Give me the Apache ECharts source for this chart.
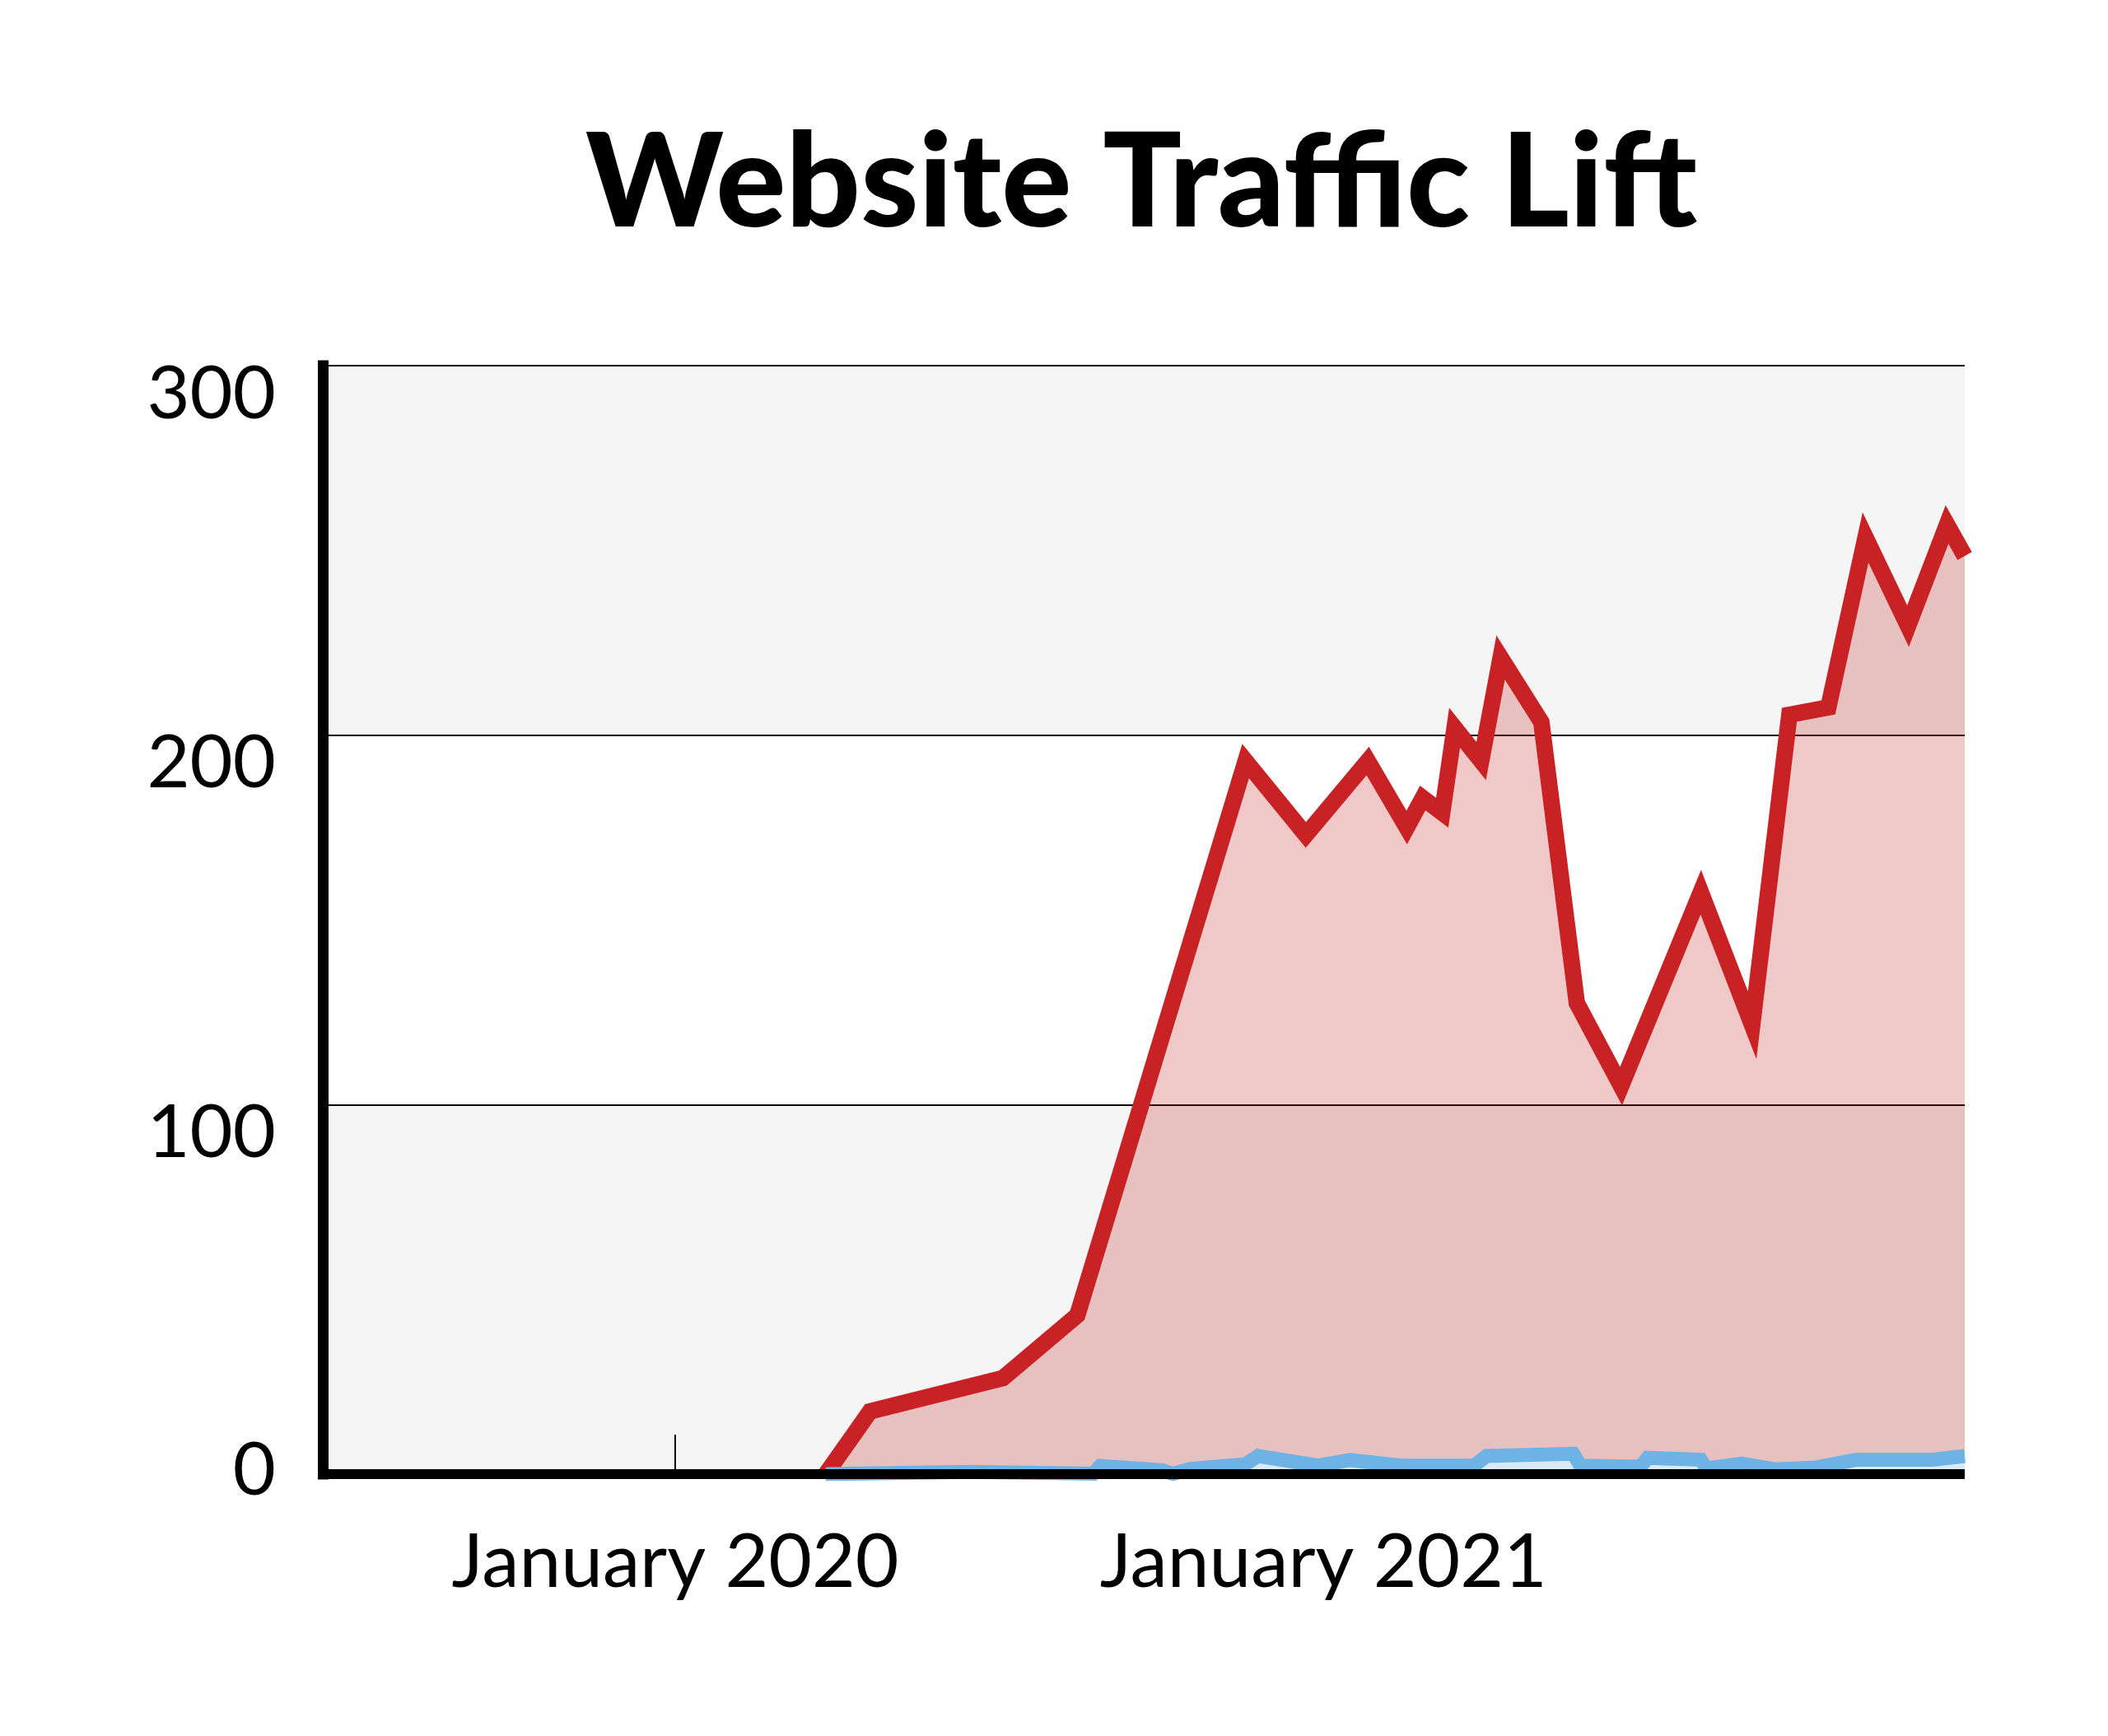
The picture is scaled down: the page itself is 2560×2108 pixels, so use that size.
<!DOCTYPE html>
<html>
<head>
<meta charset="utf-8">
<style>
html,body{margin:0;padding:0;background:#ffffff;}
#chart{width:2560px;height:2108px;}
</style>
<script src="https://cdn.jsdelivr.net/npm/echarts@6/dist/echarts.min.js"></script>
</head>
<body>
<div id="chart"></div>
<script>
// ---- data ----
const titleText = 'Website Traffic Lift';

const redDates = ['2020-03-26','2020-04-20','2020-07-04','2020-08-15','2020-11-18','2020-12-22',
  '2021-01-26','2021-02-17','2021-02-26','2021-03-09','2021-03-16','2021-03-31','2021-04-11',
  '2021-05-04','2021-05-24','2021-06-18','2021-08-02','2021-08-31','2021-09-21','2021-10-13',
  '2021-11-03','2021-11-27','2021-12-19','2021-12-29'];
const redValues = [0, 17, 26, 43, 193, 173,
  193, 175, 183, 179, 202, 193, 221,
  203.5, 127.5, 105, 157.5, 121.5, 205.5, 207.5,
  253.5, 229.5, 257, 248.5];

const blueDates = ['2020-03-26','2020-06-15','2020-08-24','2020-08-28','2020-10-02','2020-10-08',
  '2020-10-18','2020-11-18','2020-11-25','2020-12-29','2021-01-16','2021-02-14','2021-03-27',
  '2021-04-03','2021-05-22','2021-05-26','2021-06-29','2021-07-03','2021-08-02','2021-08-05',
  '2021-08-25','2021-09-13','2021-10-06','2021-10-29','2021-12-11','2021-12-29'];
const blueValues = [0, 0.6, 0.1, 2.2, 1.0, 0.1,
  1.4, 2.7, 4.9, 2.3, 3.8, 2.3, 2.3,
  4.9, 5.5, 2.3, 2.0, 4.4, 3.9, 1.6,
  2.8, 1.3, 1.8, 3.9, 3.9, 4.9];

const xMin = '2019-06-16';
const xMax = '2021-12-29';
const xLabelDates = ['2020-01-01', '2021-01-01'];
const xTickDates = ['2020-01-01'];
const yTicks = [0, 100, 200, 300];

// ---- chart ----
const FONT = 'Lato';
const MONTHS = ['January','February','March','April','May','June','July','August','September','October','November','December'];
const ts = s => { const p = s.split('-').map(Number); return new Date(p[0], p[1] - 1, p[2]).getTime(); };
const redData = redDates.map((d, i) => [ts(d), redValues[i]]);
const blueData = blueDates.map((d, i) => [ts(d), blueValues[i]]);

const chart = echarts.init(document.getElementById('chart'), null, {renderer: 'canvas'});
const option = {
  backgroundColor: '#ffffff',
  animation: false,
  title: {
    text: titleText,
    left: 711,
    top: 144,
    padding: 0,
    textStyle: {fontFamily: FONT, fontWeight: 900, fontSize: 159, color: '#000000'}
  },
  grid: {left: 392, right: 174, top: 444, bottom: 318, containLabel: false, outerBoundsMode: 'none'},
  xAxis: {
    type: 'value',
    min: ts(xMin),
    max: ts(xMax),
    offset: 4,
    z: 10,
    axisLine: {show: true, lineStyle: {color: '#000000', width: 12, cap: 'butt'}},
    axisTick: {show: true, inside: true, length: 48, customValues: xTickDates.map(ts),
      lineStyle: {color: '#000000', width: 2}},
    axisLabel: {
      customValues: xLabelDates.map(ts),
      formatter: v => { const d = new Date(v); return MONTHS[d.getMonth()] + ' ' + d.getFullYear(); },
      fontFamily: FONT, fontSize: 91, color: '#000000', margin: 58
    },
    splitLine: {show: false},
    splitArea: {show: false}
  },
  yAxis: {
    type: 'value',
    min: yTicks[0],
    max: yTicks[yTicks.length - 1],
    interval: 100,
    axisLine: {show: true, lineStyle: {color: '#000000', width: 13, cap: 'square'}},
    axisTick: {show: false},
    axisLabel: {
      margin: 57,
      fontFamily: FONT, fontSize: 90, color: '#000000',
      formatter: v => v === 0 ? '{z|0}' : '{n|' + v + '}',
      rich: {
        n: {fontFamily: FONT, fontSize: 90, color: '#000000', padding: [69, 0, 0, 0]},
        z: {fontFamily: FONT, fontSize: 90, color: '#000000', padding: [0, 0, 8, 0]}
      }
    },
    splitLine: {show: true, lineStyle: {color: '#000000', width: 2}},
    splitArea: {show: true, areaStyle: {color: ['#f5f5f5', '#ffffff']}}
  },
  series: [
    {
      name: 'Lift',
      type: 'line',
      data: redData,
      symbol: 'none',
      z: 2,
      lineStyle: {color: '#c92224', width: 20, join: 'miter', miterLimit: 10},
      areaStyle: {color: '#c92224', opacity: 0.25}
    },
    {
      name: 'Baseline',
      type: 'line',
      data: blueData,
      symbol: 'none',
      z: 3,
      lineStyle: {color: '#6db3e3', width: 17, join: 'miter', miterLimit: 10},
      areaStyle: {color: '#dbe9f6', opacity: 1}
    }
  ]
};
chart.setOption(option);
</script>
</body>
</html>
